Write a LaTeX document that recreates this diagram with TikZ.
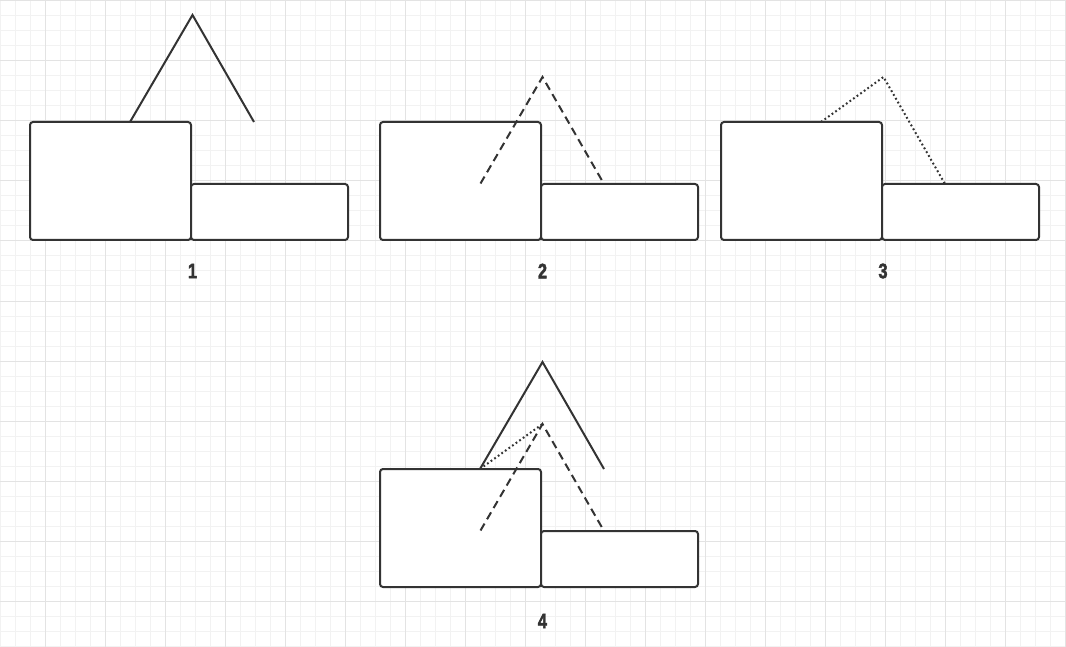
\documentclass[tikz,border=0pt]{standalone}
\usepackage{fontspec}
\setmainfont{Liberation Sans}
\newfontfamily\numfont{Liberation Sans}[FakeBold=2.5]
\usepackage{graphicx}
\definecolor{ink}{HTML}{333333}
\definecolor{gminor}{HTML}{F2F2F2}
\definecolor{gmajor}{HTML}{E3E3E3}
\tikzset{
  box/.style={draw=ink, line width=2pt, rounded corners=3pt, fill=white, rectangle, inner sep=0pt},
  bigbox/.style={box, minimum width=161pt, minimum height=118pt},
  smallbox/.style={box, minimum width=157pt, minimum height=56pt},
  solidline/.style={draw=ink, line width=2pt},
  dashline/.style={draw=ink, line width=2pt, dash pattern=on 8pt off 5pt},
  dotline/.style={draw=ink, line width=2pt, dash pattern=on 1.8pt off 2.6pt},
  numlabel/.style={text=ink, font=\numfont\bfseries\fontsize{21}{21}\selectfont, inner sep=0pt},
  minorline/.style={draw=gminor, line width=1pt},
  majorline/.style={draw=gmajor, line width=1pt}
}
\newcommand{\pnum}[1]{\scalebox{0.78}[1]{#1}}
\begin{document}
\begin{tikzpicture}[x=1pt, y=-1pt]
\useasboundingbox[fill=white] (0,0) rectangle (1066,647);
% grid
\foreach \gx in {0,15,...,1065} \draw[minorline] (\gx,0) -- (\gx,647);
\foreach \gy in {1,16,...,646} \draw[minorline] (0,\gy) -- (1066,\gy);
\foreach \gx in {45,105,...,1065} \draw[majorline] (\gx,0) -- (\gx,647);
\foreach \gy in {1,61,...,646} \draw[majorline] (0,\gy) -- (1066,\gy);

% ---------- panel 1 ----------
\begin{scope}[shift={(0,0)}]
  \node[bigbox] (b1) at (110.5,181) {};
  \node[smallbox] (s1) at (269.5,212) {};
  \coordinate (a1) at (130,122);
  \coordinate (p1) at (192.5,15);
  \coordinate (e1) at (254,122);
  \draw[solidline] (a1) -- (p1) -- (e1);
  \node[numlabel] (l1) at (192.5,271) {\pnum{1}};
\end{scope}

% ---------- panel 2 ----------
\begin{scope}[shift={(350,0)}]
  \node[bigbox] (b2) at (110.5,181) {};
  \node[smallbox] (s2) at (269.5,212) {};
  \coordinate (c2) at (130.5,183.5);
  \coordinate (q2) at (192.5,77);
  \coordinate (d2) at (254,184);
  \draw[dashline] (c2) -- (q2) -- (d2);
  \node[numlabel] (l2) at (192.5,271) {\pnum{2}};
\end{scope}

% ---------- panel 3 ----------
\begin{scope}[shift={(691,0)}]
  \node[bigbox] (b3) at (110.5,181) {};
  \node[smallbox] (s3) at (269.5,212) {};
  \coordinate (a3) at (130,122);
  \coordinate (q3) at (192.5,77);
  \coordinate (d3) at (254,184);
  \draw[dotline] (a3) -- (q3) -- (d3);
  \node[numlabel] (l3) at (192,271) {\pnum{3}};
\end{scope}

% ---------- panel 4 ----------
\begin{scope}[shift={(350,347)}]
  \node[bigbox] (b4) at (110.5,181) {};
  \node[smallbox] (s4) at (269.5,212) {};
  \coordinate (a4) at (130,122);
  \coordinate (p4) at (192.5,15);
  \coordinate (e4) at (254,122);
  \coordinate (c4) at (130.5,183.5);
  \coordinate (q4) at (192.5,77);
  \coordinate (d4) at (254,184);
  \draw[solidline] (a4) -- (p4) -- (e4);
  \draw[dashline] (c4) -- (q4) -- (d4);
  \draw[dotline] (a4) -- (q4);
  \node[numlabel] (l4) at (192.5,274) {\pnum{4}};
\end{scope}
\end{tikzpicture}
\end{document}
